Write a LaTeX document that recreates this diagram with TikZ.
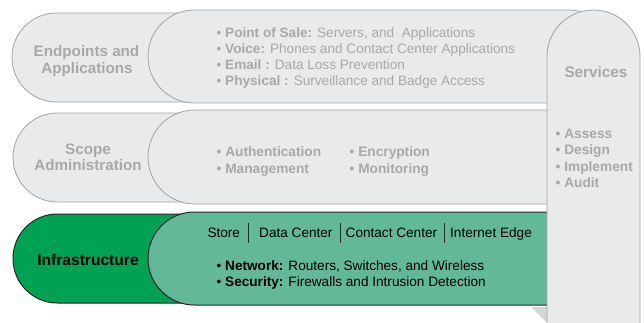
\documentclass[tikz,border=0pt]{standalone}
\usepackage{fontspec}
\setmainfont{Liberation Sans}
\definecolor{pillgrey}{HTML}{E9EAEC}
\definecolor{edgegrey}{HTML}{A3A3A3}
\definecolor{txtgrey}{HTML}{A8A8A8}
\definecolor{gdark}{HTML}{00A152}
\definecolor{glight}{HTML}{63B898}
\definecolor{shadowgrey}{HTML}{D5D6DA}
\tikzset{
  greyshape/.style={fill=pillgrey, draw=edgegrey, line width=0.8pt},
  gdarkshape/.style={fill=gdark, draw=black!85, line width=1pt},
  glightshape/.style={fill=glight, draw=black!85, line width=1pt},
  lbl/.style={inner sep=0pt, font=\fontsize{15.2}{16}\selectfont\bfseries, align=center},
  greylbl/.style={lbl, text=txtgrey},
  item/.style={inner sep=0pt, anchor=base west, font=\fontsize{13.6}{15}\selectfont},
  greyitem/.style={item, text=txtgrey},
  greybold/.style={greyitem, font=\fontsize{13.7}{15}\selectfont\bfseries},
  sep/.style={draw=black!85, line width=0.9pt}
}
\begin{document}
\begin{tikzpicture}[x=1pt,y=-1pt]
\useasboundingbox (0,0) rectangle (644,322);
% row 1
\draw[greyshape] (200,13) [rounded corners=44.4pt] -- (12,13) -- (12,102) [sharp corners] -- (200,102) -- cycle;
\draw[greyshape, rounded corners=46.4pt] (148,10) rectangle (615,103);
% row 2
\draw[greyshape] (200,113) [rounded corners=44.4pt] -- (13,113) -- (13,202) [sharp corners] -- (200,202) -- cycle;
\draw[greyshape] (560,110) [rounded corners=46.9pt] -- (148,110) -- (148,204) [sharp corners] -- (560,204) -- cycle;
% row 3
\draw[gdarkshape] (200,214) [rounded corners=44.4pt] -- (13,214) -- (13,303) [sharp corners] -- (200,303) -- cycle;
\draw[glightshape] (560,212) [rounded corners=46.4pt] -- (148,212) -- (148,305) [sharp corners] -- (560,305) -- cycle;
% shadow triangle
\fill[shadowgrey] (531,307) -- (547,307) -- (547,323) -- cycle;
% services column
\fill[pillgrey] (547,330) [rounded corners=46.4pt] -- (547,10) -- (640,10) [sharp corners] -- (640,330) -- cycle;
\draw[edgegrey, line width=0.8pt] (547,330) [rounded corners=46.4pt] -- (547,10) -- (640,10) [sharp corners] -- (640,330);

% labels
\node[greylbl, anchor=base] (ep1) at (86.5,56.5) {Endpoints and};
\node[greylbl, anchor=base] (ep2) at (87,73) {Applications};
\node[greylbl, anchor=base] (sa1) at (88,154) {Scope};
\node[greylbl, anchor=base] (sa2) at (88,170) {Administration};
\node[lbl, anchor=base, text=black, font=\fontsize{15.6}{16}\selectfont\bfseries] (inf) at (88,265) {Infrastructure};
\node[greylbl, anchor=base, font=\fontsize{15.3}{16}\selectfont\bfseries] (svc) at (596,77.3) {Services};

% row 1 items
\node[greyitem] (r1a) at (216.5,37) {\textbullet{} \textbf{Point of Sale:} Servers, and\ \ Applications};
\node[greyitem] (r1b) at (216.5,53.3) {\textbullet{} \textbf{Voice:} Phones and Contact Center Applications};
\node[greyitem] (r1c) at (216.5,69.3) {\textbullet{} \textbf{Email :} Data Loss Prevention};
\node[greyitem] (r1d) at (216.5,85.3) {\textbullet{} \textbf{Physical :} Surveillance and Badge Access};

% row 2 items
\node[greybold] (r2a) at (216.5,156.7) {\textbullet{} Authentication};
\node[greybold] (r2b) at (216.5,173) {\textbullet{} Management};
\node[greybold] (r2c) at (349.5,156.7) {\textbullet{} Encryption};
\node[greybold] (r2d) at (349.5,173) {\textbullet{} Monitoring};

% services items
\node[greybold] (s1) at (555.5,138.3) {\textbullet{} Assess};
\node[greybold] (s2) at (555.5,154.7) {\textbullet{} Design};
\node[greybold] (s3) at (555.5,171) {\textbullet{} Implement};
\node[greybold] (s4) at (555.5,187.3) {\textbullet{} Audit};

% row 3 items
\node[item] (loc1) at (207.3,237.5) {Store};
\node[item] (loc2) at (259,237.5) {Data Center};
\node[item] (loc3) at (345.5,237.5) {Contact\ Center};
\node[item] (loc4) at (450,237.5) {Internet\ Edge};
\coordinate (b1t) at (248.5,223); \coordinate (b1b) at (248.5,243);
\coordinate (b2t) at (340.5,223); \coordinate (b2b) at (340.5,243);
\coordinate (b3t) at (444.5,223); \coordinate (b3b) at (444.5,243);
\draw[sep] (b1t) -- (b1b);
\draw[sep] (b2t) -- (b2b);
\draw[sep] (b3t) -- (b3b);
\node[item] (r3a) at (216.5,270) {\textbullet{} \textbf{Network:} Routers, Switches, and Wireless};
\node[item] (r3b) at (216.5,286) {\textbullet{} \textbf{Security:} Firewalls and Intrusion Detection};
\end{tikzpicture}
\end{document}
